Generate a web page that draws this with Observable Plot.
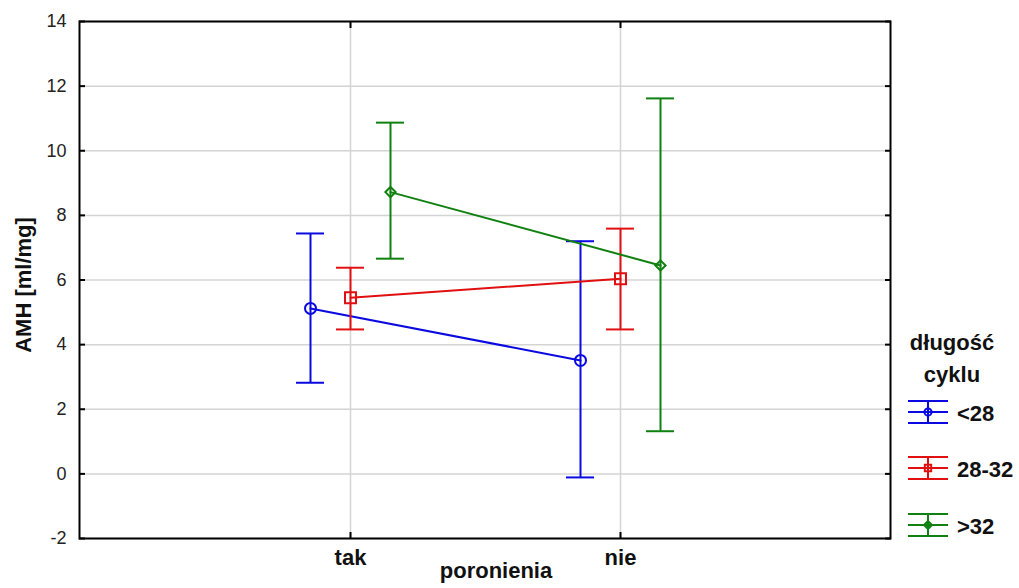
<!DOCTYPE html>
<html>
<head>
<meta charset="utf-8">
<script src="https://cdn.jsdelivr.net/npm/d3@7"></script>
<script src="https://cdn.jsdelivr.net/npm/@observablehq/plot@0.6"></script>
<style>
  html, body { margin: 0; padding: 0; background: white; }
  #chart svg { display: block; }
</style>
</head>
<body>
<div id="chart"></div>
<script>
// ---- data ----
const categories = ["tak", "nie"];
const seriesNames = ["<28", "28-32", ">32"];
const seriesColors = ["#0a0ae0", "#e01010", "#108010"];
const seriesSymbols = ["circle", "square", "diamond2"];
const yTicks = [-2, 0, 2, 4, 6, 8, 10, 12, 14];

const meanLt28 = [5.12, 3.51];
const loLt28   = [2.82, -0.11];
const hiLt28   = [7.44, 7.20];

const mean28to32 = [5.45, 6.04];
const lo28to32   = [4.47, 4.47];
const hi28to32   = [6.38, 7.59];

const meanGt32 = [8.72, 6.45];
const loGt32   = [6.66, 1.32];
const hiGt32   = [10.87, 11.62];

const means = [meanLt28, mean28to32, meanGt32];
const los = [loLt28, lo28to32, loGt32];
const his = [hiLt28, hi28to32, hiGt32];

const font = "'Liberation Sans', Arial, sans-serif";
const W = 1019, H = 588;
const dodge = 40;

const marks = [
  Plot.gridY(yTicks, {stroke: "#d4d4d4", strokeOpacity: 1, strokeWidth: 1.5}),
  Plot.gridX(categories, {stroke: "#d4d4d4", strokeOpacity: 1, strokeWidth: 1.5}),
  Plot.text(yTicks, {y: d => d, text: d => String(d), frameAnchor: "left", textAnchor: "end", dx: -13, fontSize: 18, fill: "#222"}),
  Plot.axisY({anchor: "left", ticks: yTicks, tickSize: -6, tickFormat: () => "", label: null, strokeWidth: 2}),
  Plot.axisY({anchor: "right", ticks: yTicks, tickSize: -6, tickFormat: () => "", label: null, strokeWidth: 2}),
  Plot.axisX({anchor: "bottom", tickSize: 0, tickPadding: 11, fontSize: 22, fontWeight: "bold", fill: "#111", label: null}),
  Plot.axisX({anchor: "bottom", tickSize: -6, tickFormat: () => "", label: null, strokeWidth: 2}),
  Plot.axisX({anchor: "top", tickSize: -6, tickFormat: () => "", label: null, strokeWidth: 2})
];

seriesNames.forEach((name, s) => {
  const rows = categories.map((c, i) => ({cat: c, mean: means[s][i], lo: los[s][i], hi: his[s][i], series: name}));
  const dx = (s - 1) * dodge;
  const color = seriesColors[s];
  marks.push(
    Plot.ruleX(rows, {x: "cat", y1: "lo", y2: "hi", stroke: color, strokeWidth: 2, dx}),
    Plot.ruleY(rows, {x1: "cat", x2: "cat", y: "hi", stroke: color, strokeWidth: 2, dx, insetLeft: -14, insetRight: -14}),
    Plot.ruleY(rows, {x1: "cat", x2: "cat", y: "lo", stroke: color, strokeWidth: 2, dx, insetLeft: -14, insetRight: -14}),
    Plot.line(rows, {x: "cat", y: "mean", stroke: color, strokeWidth: 2, dx}),
    Plot.dot(rows, {x: "cat", y: "mean", stroke: color, strokeWidth: 2, fill: "none", dx,
      symbol: () => seriesSymbols[s], r: s === 1 ? 6.2 : (s === 2 ? 4.6 : 5.5)})
  );
});

marks.push(Plot.frame({stroke: "black", strokeWidth: 2}));

const chart = Plot.plot({
  width: W,
  height: H,
  marginLeft: 79,
  marginRight: 129,
  marginTop: 21,
  marginBottom: 50,
  style: {fontFamily: font, background: "white", overflow: "visible"},
  x: {type: "point", domain: categories, padding: 1},
  y: {domain: [-2, 14], axis: null},
  marks
});

document.getElementById("chart").appendChild(chart);

// ---- axis titles and legend ----
const svg = d3.select(chart);
svg.append("text")
  .attr("transform", "translate(31,285) rotate(-90)")
  .attr("text-anchor", "middle")
  .attr("font-family", font).attr("font-size", 22).attr("font-weight", "bold").attr("fill", "#111")
  .text("AMH [ml/mg]");
svg.append("text")
  .attr("x", 496).attr("y", 578)
  .attr("text-anchor", "middle")
  .attr("font-family", font).attr("font-size", 22).attr("font-weight", "bold").attr("fill", "#111")
  .text("poronienia");

const lg = svg.append("g").attr("font-family", font).attr("font-weight", "bold").attr("font-size", 22).attr("fill", "#111");
lg.append("text").attr("x", 952).attr("y", 350).attr("text-anchor", "middle").text("długość");
lg.append("text").attr("x", 952).attr("y", 382).attr("text-anchor", "middle").text("cyklu");
const legendY = [412, 468, 525];
seriesNames.forEach((name, s) => {
  const cy = legendY[s];
  const g = lg.append("g").attr("stroke", seriesColors[s]).attr("stroke-width", 2).attr("fill", "none");
  [-11, 0, 11].forEach(o => g.append("line").attr("x1", 908).attr("x2", 948).attr("y1", cy + o).attr("y2", cy + o));
  g.append("line").attr("x1", 928).attr("x2", 928).attr("y1", cy - 11).attr("y2", cy + 11);
  const sym = {circle: d3.symbolCircle, square: d3.symbolSquare, diamond2: d3.symbolDiamond2}[seriesSymbols[s]];
  g.append("path").attr("transform", `translate(928,${cy})`).attr("d", d3.symbol(sym, 40)());
  lg.append("text").attr("x", 957).attr("y", cy + 9).attr("text-anchor", "start").text(name);
});
</script>
</body>
</html>
